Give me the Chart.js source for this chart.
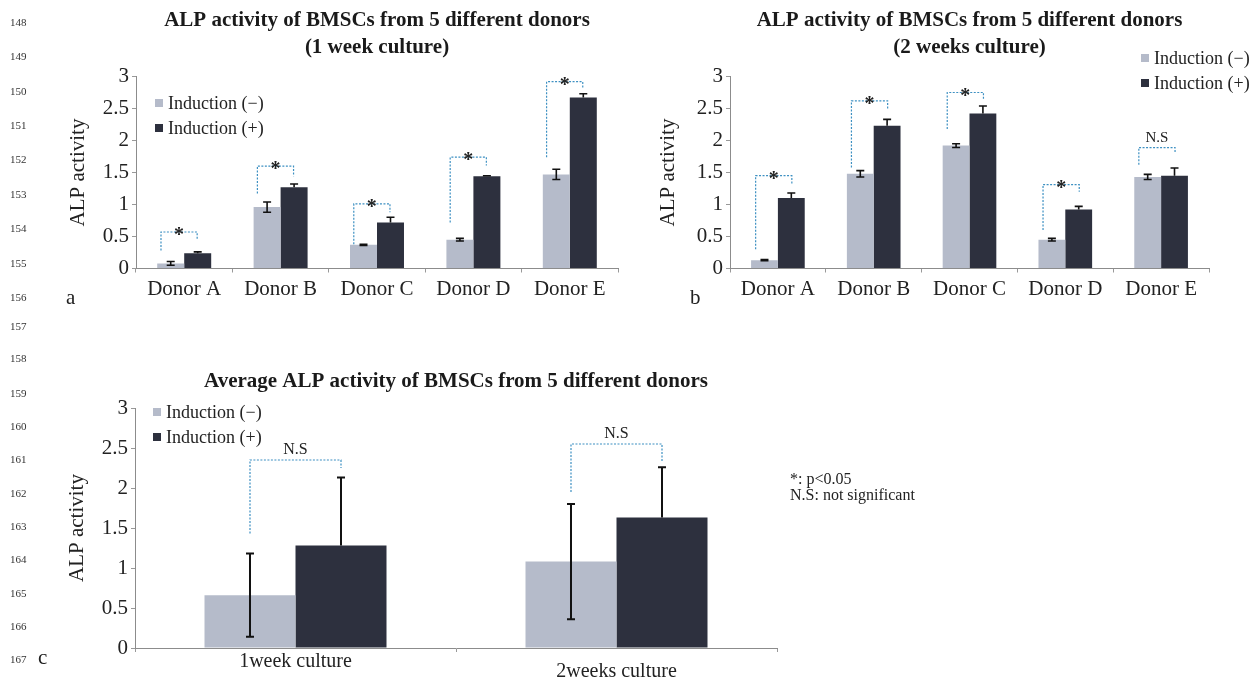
<!DOCTYPE html>
<html>
<head>
<meta charset="utf-8">
<script src="https://cdn.jsdelivr.net/npm/chart.js@4.4.1/dist/chart.umd.min.js"></script>
<style>
  html, body { margin: 0; padding: 0; background: #ffffff; }
  #wrap { position: relative; width: 1252px; height: 684px; overflow: hidden; font-family: "Liberation Serif", "DejaVu Serif", serif; color: #222; }
  #wrap canvas { position: absolute; left: 0; top: 0; }
  .ln { position: absolute; left: 10px; font-size: 11px; line-height: 12px; transform: translateY(-50%); color: #333; }
  .pl { position: absolute; font-size: 21px; line-height: 22px; transform: translateY(-50%); color: #222; }
  .note { position: absolute; left: 790px; font-size: 16px; line-height: 16px; transform: translateY(-50%); color: #222; }
</style>
</head>
<body>
<div id="wrap">
  <canvas id="chartA" width="1252" height="684"></canvas>
  <canvas id="chartB" width="1252" height="684"></canvas>
  <canvas id="chartC" width="1252" height="684"></canvas>
</div>
<script>
// ---------------- data ----------------
const lineNumbers = ['148','149','150','151','152','153','154','155','156','157','158','159','160','161','162','163','164','165','166','167'];
const donorCategories = ['Donor A', 'Donor B', 'Donor C', 'Donor D', 'Donor E'];
const cultureCategories = ['1week culture', '2weeks culture'];
const seriesLabels = ['Induction (\u2212)', 'Induction (+)'];
const yTickLabels = ['0', '0.5', '1', '1.5', '2', '2.5', '3'];

// (a) 1 week culture
const week1Neg = [0.08, 0.96, 0.37, 0.45, 1.47];
const week1NegErr = [0.03, 0.08, 0.01, 0.02, 0.08];
const week1Pos = [0.24, 1.27, 0.72, 1.44, 2.67];
const week1PosErr = [0.02, 0.05, 0.08, 0.01, 0.06];
const week1BracketTop = [0.57, 1.60, 1.01, 1.74, 2.92];
const week1BracketLeft = [0.28, 1.17, 0.38, 0.72, 1.74];
const week1BracketRight = [0.44, 1.44, 0.88, 1.61, 2.82];
const week1Marks = ['*', '*', '*', '*', '*'];

// (b) 2 weeks culture
const week2Neg = [0.13, 1.48, 1.92, 0.45, 1.43];
const week2NegErr = [0.01, 0.05, 0.03, 0.02, 0.04];
const week2Pos = [1.10, 2.23, 2.42, 0.92, 1.45];
const week2PosErr = [0.08, 0.10, 0.12, 0.05, 0.12];
const week2BracketTop = [1.45, 2.62, 2.75, 1.31, 1.89];
const week2BracketLeft = [0.30, 1.58, 2.18, 0.60, 1.62];
const week2BracketRight = [1.33, 2.50, 2.64, 1.20, 1.80];
const week2Marks = ['*', '*', '*', '*', 'N.S'];

// (c) average
const avgNeg = [0.66, 1.08];
const avgNegErr = [0.52, 0.72];
const avgPos = [1.28, 1.63];
const avgPosErr = [0.85, 0.63];
const avgBracketTop = [2.35, 2.55];
const avgBracketLeft = [1.43, 1.95];
const avgBracketRight = [2.25, 2.33];
const avgMarks = ['N.S', 'N.S'];

const titleA = ['ALP activity of BMSCs from 5 different donors', '(1 week culture)'];
const titleB = ['ALP activity of BMSCs from 5 different donors', '(2 weeks culture)'];
const titleC = 'Average ALP activity of BMSCs from 5 different donors';
const yAxisTitle = 'ALP activity';
const panelLetters = ['a', 'b', 'c'];
const noteLines = ['*: p<0.05', 'N.S: not significant'];

// ---------------- page text ----------------
const wrap = document.getElementById('wrap');
const lineNumberY = [22, 56, 90.5, 125, 159, 194, 228, 262.5, 297, 326, 358, 392.7, 426, 459, 492.7, 526, 559, 592.7, 626, 659];
lineNumbers.forEach((t, i) => {
  const d = document.createElement('div');
  d.className = 'ln'; d.textContent = t; d.style.top = lineNumberY[i] + 'px';
  wrap.appendChild(d);
});
const letterPos = [[66, 297], [690, 297], [38, 657]];
panelLetters.forEach((t, i) => {
  const d = document.createElement('div');
  d.className = 'pl'; d.textContent = t;
  d.style.left = letterPos[i][0] + 'px'; d.style.top = letterPos[i][1] + 'px';
  wrap.appendChild(d);
});
noteLines.forEach((t, i) => {
  const d = document.createElement('div');
  d.className = 'note'; d.textContent = t; d.style.top = (479 + i * 16) + 'px';
  wrap.appendChild(d);
});

// ---------------- drawing helpers ----------------
const FONT = '"Liberation Serif", "DejaVu Serif", serif';
const LIGHT = '#b5bbca';
const DARK = '#2d303e';

const annotPlugin = {
  id: 'annot',
  afterDatasetsDraw(chart, args, o) {
    const ctx = chart.ctx;
    const ys = chart.scales.y;
    const ds = chart.data.datasets;
    ctx.save();
    // error bars
    ds.forEach((d, i) => {
      const meta = chart.getDatasetMeta(i);
      meta.data.forEach((el, j) => {
        const v = d.data[j], e = o.errors[i][j];
        const yt = ys.getPixelForValue(v + e);
        const yb = ys.getPixelForValue(Math.max(0, v - e));
        ctx.strokeStyle = '#111';
        ctx.lineWidth = o.errorWidth;
        ctx.setLineDash([]);
        ctx.beginPath();
        ctx.moveTo(el.x, yt);
        ctx.lineTo(el.x, o.errorLower[i] ? yb : el.y);
        ctx.moveTo(el.x - o.capHalf, yt); ctx.lineTo(el.x + o.capHalf, yt);
        if (o.errorLower[i]) { ctx.moveTo(el.x - o.capHalf, yb); ctx.lineTo(el.x + o.capHalf, yb); }
        ctx.stroke();
      });
    });
    // significance brackets
    const m0 = chart.getDatasetMeta(0).data, m1 = chart.getDatasetMeta(1).data;
    const b = o.brackets;
    b.top.forEach((t, j) => {
      const xl = m0[j].x + o.leftShift * m0[j].width;
      const xr = m1[j].x + o.rightShift * m1[j].width;
      const yT = ys.getPixelForValue(t);
      const yL = ys.getPixelForValue(b.left[j]);
      const yR = ys.getPixelForValue(b.right[j]);
      ctx.strokeStyle = '#3d90c2';
      ctx.lineWidth = 1.2;
      ctx.setLineDash([2, 1.5]);
      ctx.beginPath();
      ctx.moveTo(xl, yL); ctx.lineTo(xl, yT); ctx.lineTo(xr, yT); ctx.lineTo(xr, yR);
      ctx.stroke();
      ctx.setLineDash([]);
      ctx.fillStyle = '#222';
      ctx.textAlign = 'center';
      ctx.textBaseline = 'alphabetic';
      const cx = (xl + xr) / 2;
      if (b.marks[j] === '*') {
        ctx.font = 'bold 20px ' + FONT;
        ctx.fillText('*', cx, yT + 9);
      } else {
        ctx.font = o.nsSize + 'px ' + FONT;
        ctx.fillText(b.marks[j], cx, yT - 6);
      }
    });
    // custom x labels (panel c)
    if (o.xLabels) {
      const xs = chart.scales.x;
      ctx.font = o.xLabels.size + 'px ' + FONT;
      ctx.fillStyle = '#222';
      ctx.textAlign = 'center';
      ctx.textBaseline = 'middle';
      chart.data.labels.forEach((lab, j) => {
        ctx.fillText(lab, xs.getPixelForValue(j), chart.chartArea.bottom + o.xLabels.offsets[j]);
      });
    }
    // legend
    const lg = o.legend;
    const ca = chart.chartArea;
    const x0 = (lg.anchor === 'right' ? ca.right : ca.left) + lg.dx;
    ds.forEach((d, i) => {
      const y = ca.top + lg.dy + i * lg.gap;
      ctx.fillStyle = d.backgroundColor;
      ctx.fillRect(x0, y - 4, 8, 8);
      ctx.fillStyle = '#222';
      ctx.font = lg.size + 'px ' + FONT;
      ctx.textAlign = 'left';
      ctx.textBaseline = 'middle';
      ctx.fillText(d.label, x0 + 13, y + 1);
    });
    ctx.restore();
  }
};

function makeChart(id, cfg) {
  return new Chart(document.getElementById(id), {
    type: 'bar',
    data: {
      labels: cfg.labels,
      datasets: [
        { label: seriesLabels[0], data: cfg.neg, backgroundColor: LIGHT, borderWidth: 0, barPercentage: 1, categoryPercentage: cfg.catPct },
        { label: seriesLabels[1], data: cfg.pos, backgroundColor: DARK, borderWidth: 0, barPercentage: 1, categoryPercentage: cfg.catPct }
      ]
    },
    options: {
      responsive: false,
      animation: false,
      devicePixelRatio: 1,
      layout: { padding: cfg.padding },
      plugins: {
        legend: { display: false },
        tooltip: { enabled: false },
        title: {
          display: true,
          text: cfg.title,
          fullSize: false,
          color: '#1a1a1a',
          font: { family: FONT, size: 21, weight: 'bold', lineHeight: 1.3 },
          padding: { top: 0, bottom: cfg.titleGap }
        },
        annot: cfg.annot
      },
      scales: {
        x: {
          type: 'category',
          offset: true,
          grid: { display: true, drawOnChartArea: false, drawTicks: true, tickLength: 4, offset: true, color: '#999' },
          border: { display: true, color: '#8c8c8c', width: 1, dash: [2, 1] },
          ticks: { display: cfg.showXTicks, color: '#222', font: { family: FONT, size: 21 }, padding: 4, maxRotation: 0, autoSkip: false },
          afterFit(s) { s.height = cfg.xHeight; }
        },
        y: {
          min: 0, max: 3,
          grid: { display: true, drawOnChartArea: false, drawTicks: true, tickLength: 4, color: '#999' },
          border: { display: true, color: '#8c8c8c', width: 1, dash: [2, 1] },
          ticks: { stepSize: 0.5, color: '#222', font: { family: FONT, size: 21 }, padding: 3,
                   callback: (v, i) => yTickLabels[i] },
          title: { display: true, text: yAxisTitle, color: '#222', font: { family: FONT, size: 21 }, padding: 0 },
          afterFit(s) { s.width = cfg.yWidth; }
        }
      }
    },
    plugins: [annotPlugin]
  });
}

// (a) plot area x 136..618, y 76.5..268.5
makeChart('chartA', {
  labels: donorCategories, neg: week1Neg, pos: week1Pos, catPct: 0.56,
  title: titleA, titleGap: 15.4, showXTicks: true,
  padding: { left: 66, right: 634, top: 6.5, bottom: 375.5 },
  xHeight: 40, yWidth: 70,
  annot: {
    errors: [week1NegErr, week1PosErr], errorLower: [true, false], errorWidth: 1.6, capHalf: 4,
    brackets: { top: week1BracketTop, left: week1BracketLeft, right: week1BracketRight, marks: week1Marks },
    leftShift: -0.36, rightShift: -0.02, nsSize: 15,
    legend: { anchor: 'left', dx: 19, dy: 26.5, gap: 25, size: 18 }
  }
});

// (b) plot area x 730..1209, y 76.5..268.5
makeChart('chartB', {
  labels: donorCategories, neg: week2Neg, pos: week2Pos, catPct: 0.56,
  title: titleB, titleGap: 15.4, showXTicks: true,
  padding: { left: 656, right: 43, top: 6.5, bottom: 375.5 },
  xHeight: 40, yWidth: 74,
  annot: {
    errors: [week2NegErr, week2PosErr], errorLower: [true, false], errorWidth: 1.6, capHalf: 4,
    brackets: { top: week2BracketTop, left: week2BracketLeft, right: week2BracketRight, marks: week2Marks },
    leftShift: -0.33, rightShift: 0.02, nsSize: 15,
    legend: { anchor: 'right', dx: -68, dy: -18.5, gap: 25, size: 18 }
  }
});

// (c) plot area x 135..777, y 408..648
makeChart('chartC', {
  labels: cultureCategories, neg: avgNeg, pos: avgPos, catPct: 0.567,
  title: titleC, titleGap: 13.2, showXTicks: false,
  padding: { left: 65, right: 475, top: 367.5, bottom: 0 },
  xHeight: 36, yWidth: 70,
  annot: {
    errors: [avgNegErr, avgPosErr], errorLower: [true, false], errorWidth: 2, capHalf: 4,
    brackets: { top: avgBracketTop, left: avgBracketLeft, right: avgBracketRight, marks: avgMarks },
    leftShift: 0, rightShift: 0, nsSize: 16,
    xLabels: { size: 20, offsets: [14, 24] },
    legend: { anchor: 'left', dx: 18, dy: 4, gap: 25, size: 18 }
  }
});
</script>
</body>
</html>
